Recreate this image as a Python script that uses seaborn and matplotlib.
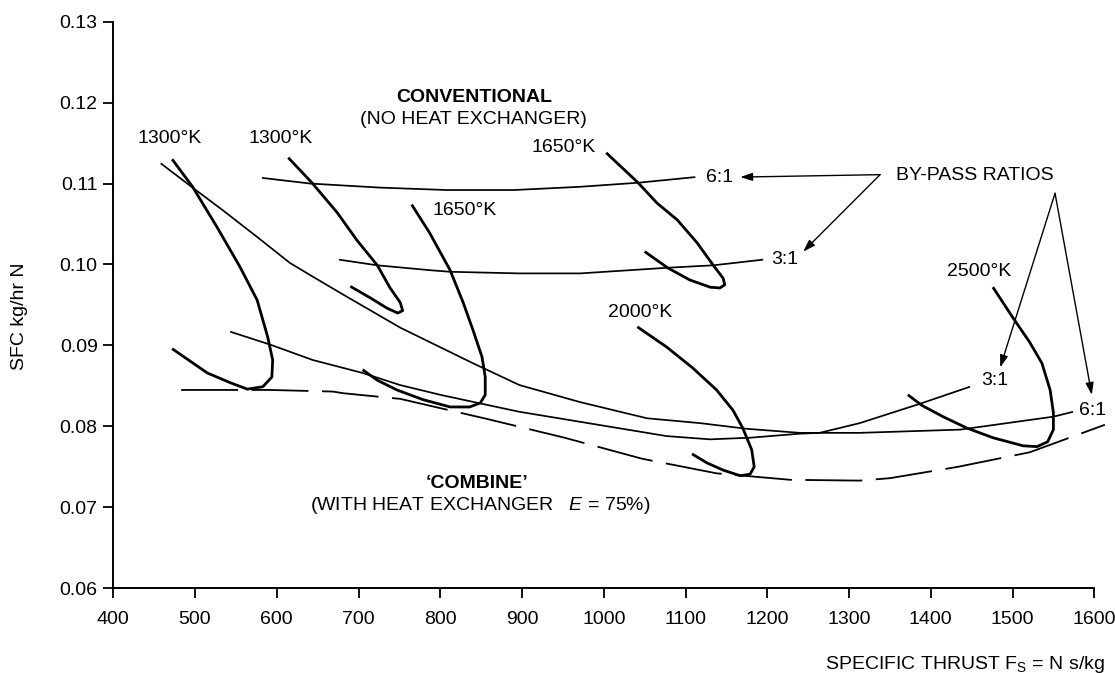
import matplotlib
matplotlib.use("Agg")
import matplotlib.pyplot as plt
import seaborn as sns
from matplotlib.ticker import FormatStrFormatter, MultipleLocator

# ---- curve data: specific thrust (N s/kg) vs SFC (kg/hr N) ----
# Conventional engine, by-pass ratio lines
conv_bp6_fs = [582, 641, 726, 808, 890, 971, 1042, 1112]
conv_bp6_sfc = [0.1107, 0.1100, 0.1095, 0.1092, 0.1092, 0.1096, 0.1101, 0.1108]
conv_bp3_fs = [676, 723, 787, 812, 897, 971, 1078, 1134, 1195]
conv_bp3_sfc = [0.1006, 0.0999, 0.0993, 0.0991, 0.0989, 0.0989, 0.0996, 0.0999, 0.1006]

# Conventional engine, turbine entry temperature lines
conv_t1300_fs = [614, 643, 674, 698, 723, 738, 751, 754, 748, 735, 714, 690]
conv_t1300_sfc = [0.1132, 0.1101, 0.1064, 0.1030, 0.0999, 0.0972, 0.0953, 0.0943,
                  0.0940, 0.0946, 0.0959, 0.0973]
conv_t1650_fs = [1003, 1042, 1065, 1090, 1114, 1134, 1146, 1148, 1142, 1130, 1105, 1078, 1050]
conv_t1650_sfc = [0.1138, 0.1101, 0.1076, 0.1055, 0.1027, 0.0999, 0.0983, 0.0975,
                  0.0971, 0.0972, 0.0981, 0.0996, 0.1016]

# Combined cycle (heat exchanger), by-pass ratio lines
comb_bp6_fs = [458, 497, 534, 576, 616, 644, 686, 751, 840, 897, 971, 1053, 1118,
               1175, 1240, 1313, 1436, 1550, 1574]
comb_bp6_sfc = [0.1125, 0.1095, 0.1067, 0.1034, 0.1002, 0.0985, 0.0960, 0.0922, 0.0878,
                0.0851, 0.0830, 0.0810, 0.0804, 0.0797, 0.0792, 0.0792, 0.0796, 0.0812, 0.0818]
comb_bp3_fs = [543, 592, 644, 705, 751, 800, 869, 897, 1011, 1077, 1130, 1179, 1240,
               1264, 1313, 1387, 1448]
comb_bp3_sfc = [0.0917, 0.0901, 0.0882, 0.0866, 0.0851, 0.0839, 0.0824, 0.0818, 0.0799,
                0.0788, 0.0784, 0.0786, 0.0791, 0.0792, 0.0804, 0.0828, 0.0849]

# Combined cycle, turbine entry temperature lines
comb_t1300_fs = [472, 497, 527, 555, 576, 589, 595, 594, 583, 564, 543, 515, 472]
comb_t1300_sfc = [0.1130, 0.1096, 0.1046, 0.0997, 0.0956, 0.0910, 0.0882, 0.0861,
                  0.0849, 0.0846, 0.0854, 0.0866, 0.0896]
comb_t1650_fs = [765, 787, 812, 828, 840, 851, 855, 855, 849, 836, 812, 779, 747, 723, 705]
comb_t1650_sfc = [0.1074, 0.1039, 0.0993, 0.0953, 0.0919, 0.0886, 0.0861, 0.0839,
                  0.0829, 0.0824, 0.0824, 0.0833, 0.0845, 0.0857, 0.0870]
comb_t2000_fs = [1041, 1077, 1109, 1138, 1158, 1170, 1181, 1184, 1179, 1167, 1146, 1126, 1108]
comb_t2000_sfc = [0.0923, 0.0898, 0.0872, 0.0845, 0.0820, 0.0798, 0.0771, 0.0750,
                  0.0741, 0.0739, 0.0746, 0.0755, 0.0766]
comb_t2500_fs = [1476, 1500, 1521, 1536, 1546, 1550, 1550, 1543, 1530, 1513, 1476,
                 1444, 1415, 1389, 1372]
comb_t2500_sfc = [0.0972, 0.0935, 0.0904, 0.0878, 0.0845, 0.0817, 0.0796, 0.0781,
                  0.0775, 0.0776, 0.0786, 0.0798, 0.0812, 0.0826, 0.0839]

# Lower envelope of the combined-cycle curves (dashed)
envelope_fs = [483, 592, 669, 681, 751, 858, 952, 1047, 1138, 1228, 1313, 1350, 1433, 1521, 1613]
envelope_sfc = [0.0845, 0.0845, 0.0843, 0.0841, 0.0834, 0.0809, 0.0786, 0.0760, 0.0742,
                0.0734, 0.0733, 0.0736, 0.0750, 0.0768, 0.0802]

x_ticks = [400, 500, 600, 700, 800, 900, 1000, 1100, 1200, 1300, 1400, 1500, 1600]

# ---- style ----
sns.set_theme(style="ticks")
plt.rcParams["font.family"] = ["Liberation Sans", "DejaVu Sans"]
plt.rcParams["mathtext.fontset"] = "custom"
plt.rcParams["mathtext.rm"] = "Liberation Sans"
plt.rcParams["mathtext.it"] = "Liberation Sans:italic"
plt.rcParams["mathtext.bf"] = "Liberation Sans:bold"

FS = 14
INK = "black"

fig = plt.figure(figsize=(11.15, 6.73), dpi=100)
ax = fig.add_axes([0.1016, 0.1259, 0.8798, 0.8419])

thin = 1.25
thick = 2.0

def curve(xs, ys, lw, **kw):
    sns.lineplot(x=xs, y=ys, sort=False, estimator=None, color=INK, lw=lw,
                 solid_joinstyle="round", solid_capstyle="butt", ax=ax, **kw)

# by-pass ratio lines (thin)
curve(conv_bp6_fs, conv_bp6_sfc, thin)
curve(conv_bp3_fs, conv_bp3_sfc, thin)
curve(comb_bp6_fs, comb_bp6_sfc, thin)
curve(comb_bp3_fs, comb_bp3_sfc, thin)

# temperature lines (thick)
curve(conv_t1300_fs, conv_t1300_sfc, thick)
curve(conv_t1650_fs, conv_t1650_sfc, thick)
curve(comb_t1300_fs, comb_t1300_sfc, thick)
curve(comb_t1650_fs, comb_t1650_sfc, thick)
curve(comb_t2000_fs, comb_t2000_sfc, thick)
curve(comb_t2500_fs, comb_t2500_sfc, thick)

# dashed envelope
sns.lineplot(x=envelope_fs, y=envelope_sfc, sort=False, estimator=None, color=INK,
             lw=1.3, linestyle=(0, (31.5, 7.5)), dash_capstyle="butt",
             clip_on=False, ax=ax)

# ---- axes ----
ax.set_xlim(400, 1600)
ax.set_ylim(0.06, 0.13)
ax.set_xticks(x_ticks)
ax.yaxis.set_major_locator(MultipleLocator(0.01))
ax.yaxis.set_major_formatter(FormatStrFormatter("%.2f"))
sns.despine(ax=ax)
for s in ("left", "bottom"):
    ax.spines[s].set_linewidth(1.4)
    ax.spines[s].set_color(INK)
ax.tick_params(axis="both", direction="out", length=7.2, width=1.3, colors=INK,
               labelsize=FS)
ax.tick_params(axis="x", pad=9)
ax.tick_params(axis="y", pad=4)

ax.set_xlabel("SPECIFIC THRUST F$_\\mathregular{S}$ = N s/kg", fontsize=FS, color=INK)
ax.xaxis.set_label_coords(1.0112, -0.1155)
ax.xaxis.label.set_ha("right")
ax.xaxis.label.set_va("top")
ax.set_ylabel("SFC kg/hr N", fontsize=FS, color=INK)
ax.yaxis.set_label_coords(-0.0961, 0.4806)
ax.yaxis.label.set_va("center")

# ---- annotations ----
def label(x, y, s, **kw):
    ax.text(x, y, s, fontsize=kw.pop("fontsize", FS), color=INK, ha="center",
            va="center", **kw)

label(842, 0.1206, "CONVENTIONAL", fontweight="bold")
label(840, 0.1179, "(NO HEAT EXCHANGER)")
label(469, 0.1156, "1300°K")
label(605, 0.1156, "1300°K")
label(830, 0.1067, "1650°K")
label(951, 0.1144, "1650°K")
label(1044, 0.0941, "2000°K")
label(1459, 0.0991, "2500°K")
label(1142, 0.1108, "6:1")
label(1222, 0.1006, "3:1")
label(1478, 0.0857, "3:1")
label(1598, 0.0820, "6:1", clip_on=False)
label(1454, 0.1110, "BY-PASS RATIOS")
label(845, 0.0729, "‘COMBINE’", fontweight="bold")
label(849, 0.0702, "(WITH HEAT EXCHANGER   $\\mathit{E}$ = 75%)")

arrow_kw = dict(arrowstyle="-|>,head_length=0.6,head_width=0.2", color=INK, lw=1.0,
                mutation_scale=12, shrinkA=0, shrinkB=0)
apex_conv = (1338, 0.1111)
apex_comb = (1552, 0.1088)
for tip in [(1167, 0.1108), (1244, 0.1016)]:
    ax.annotate("", xy=tip, xytext=apex_conv, arrowprops=arrow_kw, annotation_clip=False)
for tip in [(1485, 0.0873), (1597, 0.0839)]:
    ax.annotate("", xy=tip, xytext=apex_comb, arrowprops=arrow_kw, annotation_clip=False)

fig.savefig("out.png", dpi=100, facecolor="white")
